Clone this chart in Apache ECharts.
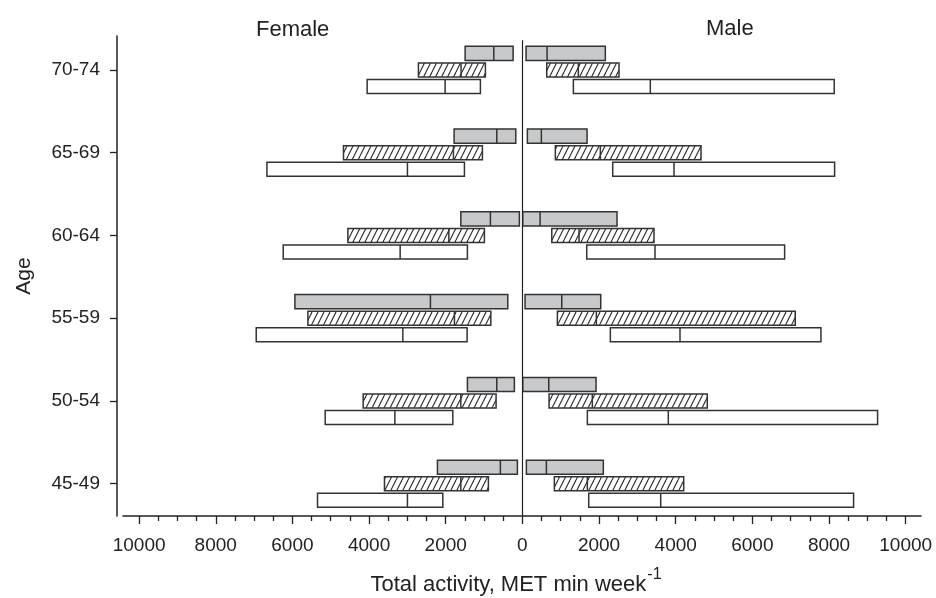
<!DOCTYPE html>
<html>
<head>
<meta charset="utf-8">
<script src="https://cdn.jsdelivr.net/npm/echarts@6/dist/echarts.min.js"></script>
<style>
  html, body { margin: 0; padding: 0; background: #fff; }
  #chart { width: 936px; height: 598px; }
</style>
</head>
<body>
<div id="chart"></div>
<script>
// age groups, bottom to top
const ages = ['45-49', '50-54', '55-59', '60-64', '65-69', '70-74'];

// female: [inner quartile, median, outer quartile] as positive MET min/week
const femaleGrey    = [[130, 574, 2216], [209, 668, 1434], [381, 2399, 5935], [78, 834, 1606], [172, 668, 1781], [242, 746, 1494]];
const femaleHatched = [[887, 1606, 3598], [686, 1606, 4154], [824, 1773, 5596], [991, 1919, 4553], [1043, 1799, 4667], [965, 1600, 2712]];
const femaleOpen    = [[2076, 2999, 5345], [1815, 3327, 5145], [1442, 3119, 6944], [1434, 3189, 6240], [1512, 2999, 6665], [1095, 2016, 4050]];

// male: [lower quartile, median, upper quartile]
const maleGrey    = [[104, 626, 2112], [10, 688, 1922], [70, 1027, 2044], [10, 462, 2469], [130, 495, 1687], [96, 644, 2164]];
const maleHatched = [[834, 1695, 4209], [696, 1825, 4824], [913, 1930, 7119], [767, 1478, 3434], [860, 2034, 4660], [636, 1460, 2521]];
const maleOpen    = [[1731, 3609, 8641], [1695, 3807, 9267], [2295, 4112, 7789], [1679, 3460, 6842], [2357, 3956, 8146], [1330, 3338, 8136]];

const xMajorTicks = [-10000, -8000, -6000, -4000, -2000, 0, 2000, 4000, 6000, 8000, 10000];
const yTicks = [0, 1, 2, 3, 4, 5];

const FONT = '"Liberation Sans", Arial, sans-serif';
const INK = '#222';

const xMinorTicks = [];
for (let v = -10000; v <= 10000; v += 500) {
  if (v % 2000 !== 0) xMinorTicks.push(v);
}

// hatch fill
function makeHatch() {
  const c = document.createElement('canvas');
  c.width = 6; c.height = 12;
  const ctx = c.getContext('2d');
  ctx.fillStyle = '#fff';
  ctx.fillRect(0, 0, 6, 12);
  ctx.strokeStyle = '#2a2a2a';
  ctx.lineWidth = 1.1;
  [-6, 0, 6].forEach(x0 => {
    ctx.beginPath();
    ctx.moveTo(x0, 12);
    ctx.lineTo(x0 + 6, 0);
    ctx.stroke();
  });
  return { image: c, repeat: 'repeat' };
}

function buildData(female, male) {
  const rows = [];
  female.forEach((d, i) => rows.push([i, -d[0], -d[1], -d[2]]));
  male.forEach((d, i) => rows.push([i, d[0], d[1], d[2]]));
  return rows;
}

function boxRenderer(shift, fill) {
  return function (params, api) {
    const yv = api.value(0) + shift;
    const a = api.coord([api.value(1), yv]);
    const m = api.coord([api.value(2), yv]);
    const b = api.coord([api.value(3), yv]);
    const h = api.size([0, 0.17])[1];
    const x0 = Math.min(a[0], b[0]);
    const w = Math.abs(b[0] - a[0]);
    return {
      type: 'group',
      children: [
        { type: 'rect', shape: { x: x0, y: a[1] - h / 2, width: w, height: h },
          style: { fill: fill, stroke: '#333', lineWidth: 1.5 } },
        { type: 'line', shape: { x1: m[0], y1: a[1] - h / 2, x2: m[0], y2: a[1] + h / 2 },
          style: { stroke: '#333', lineWidth: 1.5 } }
      ]
    };
  };
}

const chart = echarts.init(document.getElementById('chart'), null, { renderer: 'canvas' });

const tickLine = { color: INK, width: 1.3 };

const option = {
  animation: false,
  backgroundColor: '#fff',
  textStyle: { fontFamily: FONT },
  title: [
    { text: 'Female', left: 256, top: 19, padding: 0,
      textStyle: { fontSize: 22, fontWeight: 'normal', color: INK, fontFamily: FONT } },
    { text: 'Male', left: 706, top: 18, padding: 0,
      textStyle: { fontSize: 22, fontWeight: 'normal', color: INK, fontFamily: FONT } }
  ],
  grid: { left: 123, right: 15, top: 36, bottom: 82, containLabel: false, outerBoundsMode: 'none' },
  xAxis: [
    {
      type: 'value',
      min: -10420,
      max: 10400,
      position: 'bottom',
      axisLine: { show: true, onZero: false, lineStyle: { color: INK, width: 1.5 } },
      axisTick: { show: true, length: 8, customValues: xMajorTicks, lineStyle: tickLine },
      axisLabel: {
        customValues: xMajorTicks,
        formatter: v => String(Math.abs(v)),
        fontSize: 19, color: INK, margin: 20, fontFamily: FONT
      },
      splitLine: { show: false },
      name: '{t|Total activity, MET min week}{s|-1}',
      nameLocation: 'middle',
      nameGap: 58,
      nameTextStyle: {
        padding: [0, 12, 0, 0],
        rich: {
          t: { fontSize: 22, color: INK, fontFamily: FONT, lineHeight: 22 },
          s: { fontSize: 16, color: INK, fontFamily: FONT, lineHeight: 16, padding: [0, 0, 20, 1] }
        }
      }
    },
    {
      type: 'value',
      min: -10420,
      max: 10400,
      position: 'bottom',
      axisLine: { show: false, onZero: false },
      axisTick: { show: true, length: 5, customValues: xMinorTicks, lineStyle: tickLine },
      axisLabel: { show: false },
      splitLine: { show: false }
    }
  ],
  yAxis: {
    type: 'value',
    min: -0.39,
    max: 5.41,
    offset: 6,
    axisLine: { show: true, onZero: false, lineStyle: { color: INK, width: 1.5 } },
    axisTick: { show: true, length: 7, customValues: yTicks, lineStyle: tickLine },
    axisLabel: {
      customValues: yTicks,
      formatter: v => ages[Math.round(v)] || '',
      fontSize: 19, color: INK, margin: 17, fontFamily: FONT
    },
    splitLine: { show: false },
    name: 'Age',
    nameLocation: 'middle',
    nameGap: 82,
    nameTextStyle: { fontSize: 21, color: INK, fontFamily: FONT }
  },
  series: [
    {
      name: 'grey',
      type: 'custom',
      renderItem: boxRenderer(0.2, '#c8c9cb'),
      encode: { x: [1, 2, 3], y: 0 },
      data: buildData(femaleGrey, maleGrey),
      markLine: {
        silent: true,
        symbol: 'none',
        label: { show: false },
        lineStyle: { color: INK, width: 1.2, type: 'solid' },
        data: [[{ coord: [0, -0.39] }, { coord: [0, 5.36] }]]
      }
    },
    {
      name: 'hatched',
      type: 'custom',
      renderItem: boxRenderer(0, makeHatch()),
      encode: { x: [1, 2, 3], y: 0 },
      data: buildData(femaleHatched, maleHatched)
    },
    {
      name: 'open',
      type: 'custom',
      renderItem: boxRenderer(-0.2, '#fff'),
      encode: { x: [1, 2, 3], y: 0 },
      data: buildData(femaleOpen, maleOpen)
    }
  ]
};

chart.setOption(option);
</script>
</body>
</html>
